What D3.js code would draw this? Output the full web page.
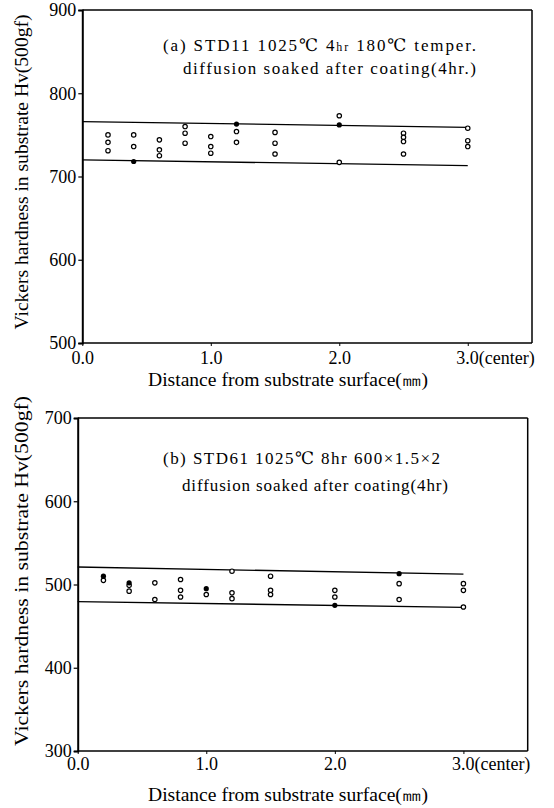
<!DOCTYPE html>
<html><head><meta charset="utf-8">
<script src="https://cdn.jsdelivr.net/npm/d3@7"></script>
<style>
html,body{margin:0;padding:0;background:#fff;}
svg{display:block;}
text{font-family:"Liberation Serif","DejaVu Serif",serif;fill:#000;}
</style></head>
<body>
<script>
// ---------- data ----------
const distances = [0.2, 0.4, 0.6, 0.8, 1.0, 1.2, 1.5, 2.0, 2.5, 3.0];
const xTickValues = [0, 1, 2, 3];
const xTickLabels = ["0.0", "1.0", "2.0", "3.0"];
const yTicksA = [500, 600, 700, 800, 900];
const yTicksB = [300, 400, 500, 600, 700];

// panel (a): open markers per distance
const openA = [[750,741,731],[750,736],[744,732,725],[760,752,740],[748,736,728],[754,741],[753,740,727],[773,717],[752,747,742,727],[758,743,736]];
// panel (a): solid markers [distance, Hv]
const solidA = [[0.4,718],[1.2,763],[2.0,762]];
const upperA = [[0,766],[3.0,759]];
const lowerA = [[0,720],[3.0,713]];

// panel (b)
const openB = [[505],[499,492],[502,482],[506,493,485],[488],[516,490,483],[510,493,488],[493,485],[501,482],[501,493,473]];
const solidB = [[0.2,510],[0.4,502],[1.0,495],[2.0,475],[2.5,513]];
const upperB = [[0,521],[3.0,512.5]];
const lowerB = [[0,479.5],[3.0,472.5]];

const yTitle = "Vickers hardness in substrate Hv(500gf)";
const xTitle = "Distance from substrate surface(\u339C)";

// ---------- drawing ----------
const svg = d3.select("body").append("svg").attr("width",554).attr("height",808);

function panel(cfg){
  const x = d3.scaleLinear().domain([0,3.5]).range([cfg.left, cfg.right]);
  const y = d3.scaleLinear().domain(cfg.yDomain).range([cfg.bottom, cfg.top]);
  const g = svg.append("g");

  // frame top & right
  g.append("line").attr("x1",x(0)).attr("x2",x(3.5)).attr("y1",y(cfg.yDomain[1])).attr("y2",y(cfg.yDomain[1]))
    .attr("stroke","#000").attr("stroke-width",1.5);
  g.append("line").attr("x1",x(3.5)).attr("x2",x(3.5)).attr("y1",y(cfg.yDomain[1])).attr("y2",y(cfg.yDomain[0]))
    .attr("stroke","#000").attr("stroke-width",1.5);

  // y axis
  const ya = g.append("g").attr("transform",`translate(${x(0)},0)`)
    .call(d3.axisLeft(y).tickValues(cfg.yTicks).tickSize(4).tickPadding(2).tickFormat(d3.format("d")));
  ya.select(".domain").attr("stroke-width",2);
  ya.selectAll("text").attr("font-size",18).attr("font-family","Liberation Serif");
  ya.selectAll("line").attr("stroke-width",1.2);

  // x axis
  const xa = g.append("g").attr("transform",`translate(0,${y(cfg.yDomain[0])})`)
    .call(d3.axisBottom(x).tickValues(xTickValues).tickSize(3).tickPadding(cfg.xPad)
      .tickFormat((d,i)=>xTickLabels[i]));
  xa.select(".domain").attr("stroke-width",1.6).attr("d",`M${x(0)},0H${x(3.5)}`);
  xa.selectAll("text").attr("font-size",18).attr("font-family","Liberation Serif");
  xa.selectAll(".tick").filter(d=>d===3).select("text")
    .attr("text-anchor","start").attr("dx",-12)
    .append("tspan").text("(center)");

  // band lines
  const line = d3.line().x(d=>x(d[0])).y(d=>y(d[1]));
  [cfg.upper,cfg.lower].forEach(l=>{
    g.append("path").attr("d",line(l)).attr("fill","none").attr("stroke","#000").attr("stroke-width",1.3);
  });

  // markers
  const pts = [];
  cfg.open.forEach((vals,i)=>vals.forEach(v=>pts.push([distances[i],v])));
  g.selectAll("circle.o").data(pts).join("circle").attr("class","o")
    .attr("cx",d=>x(d[0])).attr("cy",d=>y(d[1])).attr("r",2.2)
    .attr("fill","#fff").attr("stroke","#000").attr("stroke-width",1.2);
  g.selectAll("circle.s").data(cfg.solid).join("circle").attr("class","s")
    .attr("cx",d=>x(d[0])).attr("cy",d=>y(d[1])).attr("r",2.6)
    .attr("fill","#000");

  // titles inside
  const t1 = g.append("text").attr("x",cfg.t1x).attr("y",cfg.t1y).attr("font-size",17)
    .attr("textLength",cfg.t1w).attr("lengthAdjust","spacing");
  cfg.title1.forEach(p=>t1.append("tspan").text(p.t).attr("font-size",p.s||17));
  g.append("text").attr("x",cfg.t2x).attr("y",cfg.t2y).attr("font-size",17)
    .attr("textLength",cfg.t2w).attr("lengthAdjust","spacing").text(cfg.title2);

  // axis titles
  g.append("text").attr("transform",`translate(${cfg.ytx},${cfg.yty}) rotate(-90)`)
    .attr("text-anchor","middle").attr("font-size",18)
    .attr("textLength",cfg.ytw).attr("lengthAdjust","spacingAndGlyphs").text(yTitle);
  g.append("text").attr("x",cfg.xtx).attr("y",cfg.xty)
    .attr("text-anchor","middle").attr("font-size",18)
    .attr("textLength",280).attr("lengthAdjust","spacingAndGlyphs").text(xTitle);
}

panel({left:82.3,right:532,top:10,bottom:343,yDomain:[500,900],yTicks:yTicksA,xPad:5,
  open:openA,solid:solidA,upper:upperA,lower:lowerA,
  t1x:163,t1y:51,t1w:313,title1:[{t:"(a) STD11 1025\u2103  4"},{t:"hr",s:12},{t:"  180\u2103 temper."}],
  t2x:183,t2y:74,t2w:293,title2:"diffusion soaked after coating(4hr.)",
  ytx:28,yty:172,ytw:315,xtx:288,xty:386});

panel({left:77.7,right:527.7,top:418,bottom:751,yDomain:[300,700],yTicks:yTicksB,xPad:3,
  open:openB,solid:solidB,upper:upperB,lower:lowerB,
  t1x:163,t1y:464,t1w:277,title1:[{t:"(b) STD61 1025\u2103 8hr 600\u00D71.5\u00D72"}],
  t2x:182,t2y:491,t2w:266,title2:"diffusion soaked after coating(4hr)",
  ytx:28,yty:571,ytw:350,xtx:288,xty:801});
</script>
</body></html>
